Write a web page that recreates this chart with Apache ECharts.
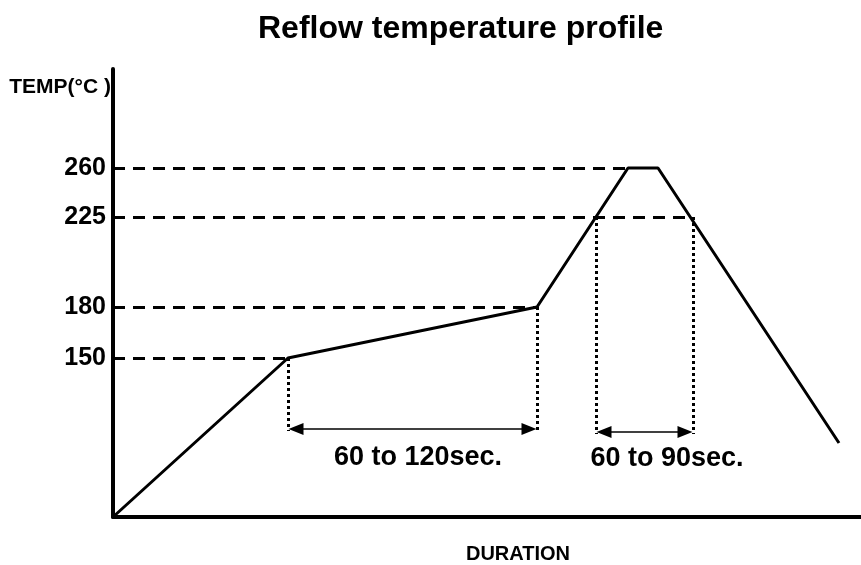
<!DOCTYPE html>
<html lang="en">
<head>
    <meta charset="UTF-8">
    <title>Reflow temperature profile</title>
    <script src="https://cdn.jsdelivr.net/npm/echarts@6.0.0/dist/echarts.min.js"></script>
    <style>
        body {
            padding: 0;
            margin: 0;
            border: none;
            overflow: hidden;
            background: #fff;
        }
        #echart {
            width: 861px;
            height: 565px;
        }
    </style>
</head>
<body>
<div id="echart"></div>
<script>
// schematic profile: duration units along x, drawing level along y (the chart is not to scale)
const profileTime = [0, 175, 424, 515, 545, 726];
const profileLevel = [0, 159, 210, 349, 349, 74];

// temperature marks on the y axis and where each dashed guide meets the curve
const tempLabels = ['150', '180', '225', '260'];
const tempLevels = [159, 210, 300, 349];
const guideEnds = [175, 424, 580, 514];

// dotted drop lines
const dropTimes = [175, 424, 483, 580];
const dropTops = [159, 210, 300, 300];
const dropBottoms = [86, 86, 83, 83];

// double arrows and their notes
const spanStart = [183, 491];
const spanEnd = [416, 572];
const spanLevel = [88, 85];
const spanText = ['60 to 120sec.', '60 to 90sec.'];
const spanTextTime = [305, 554];
const spanTextLevel = [59, 58];

const FONT = '"Liberation Sans", Arial, sans-serif';

let markData = [];
tempLevels.forEach((lv, i) => {
    markData.push([
        {
            coord: [0, lv],
            symbol: 'none',
            lineStyle: {color: '#000', width: 3, type: [12, 8]},
            label: {
                show: true, position: 'start', distance: 7,
                formatter: tempLabels[i],
                fontFamily: FONT, fontWeight: 'bold', fontSize: 25, color: '#000'
            }
        },
        {coord: [guideEnds[i], lv], symbol: 'none'}
    ]);
});
dropTimes.forEach((t, i) => {
    markData.push([
        {
            coord: [t, dropTops[i]],
            symbol: 'none',
            lineStyle: {color: '#000', width: 3, type: [3, 3]},
            label: {show: false}
        },
        {coord: [t, dropBottoms[i]], symbol: 'none'}
    ]);
});
spanStart.forEach((s, i) => {
    markData.push([
        {
            coord: [s, spanLevel[i]],
            symbol: 'triangle',
            symbolSize: [12, 15],
            lineStyle: {color: '#000', width: 1.5, type: 'solid'},
            label: {show: false}
        },
        {coord: [spanEnd[i], spanLevel[i]], symbol: 'triangle', symbolSize: [12, 15]}
    ]);
});

let ec = echarts.init(document.getElementById('echart'));
ec.setOption({
    animation: false,
    backgroundColor: '#fff',
    title: {
        text: 'Reflow temperature profile',
        left: 258,
        top: 13,
        padding: 0,
        textStyle: {fontFamily: FONT, fontWeight: 'bold', fontSize: 32, color: '#000'}
    },
    grid: {left: 113, right: 0, top: 69, bottom: 48, outerBoundsMode: 'none', containLabel: false},
    xAxis: {
        type: 'value',
        min: 0,
        max: 748,
        name: 'DURATION',
        nameLocation: 'middle',
        nameGap: 27,
        nameTextStyle: {
            fontFamily: FONT, fontWeight: 'bold', fontSize: 20, color: '#000',
            padding: [0, 0, 0, 62]
        },
        axisLine: {show: true, lineStyle: {color: '#000', width: 4}},
        axisTick: {show: false},
        axisLabel: {show: false},
        splitLine: {show: false}
    },
    yAxis: {
        type: 'value',
        min: 0,
        max: 448,
        name: 'TEMP(°C )',
        nameLocation: 'end',
        nameGap: -18,
        nameTextStyle: {
            fontFamily: FONT, fontWeight: 'bold', fontSize: 21, color: '#000',
            align: 'right', verticalAlign: 'middle', padding: [0, 2, 0, 0]
        },
        axisLine: {show: true, lineStyle: {color: '#000', width: 4}},
        axisTick: {show: false},
        axisLabel: {show: false},
        splitLine: {show: false}
    },
    series: [
        {
            type: 'line',
            data: profileTime.map((t, i) => [t, profileLevel[i]]),
            symbol: 'none',
            lineStyle: {color: '#000', width: 3},
            z: 3,
            markLine: {
                silent: true,
                animation: false,
                data: markData
            }
        },
        {
            type: 'scatter',
            symbolSize: 0,
            itemStyle: {opacity: 1},
            data: spanText.map((txt, i) => ({name: txt, value: [spanTextTime[i], spanTextLevel[i]]})),
            label: {
                show: true,
                position: 'inside',
                formatter: p => p.name,
                fontFamily: FONT, fontWeight: 'bold', fontSize: 27, color: '#000', opacity: 1
            },
            silent: true
        }
    ]
});
</script>
</body>
</html>
